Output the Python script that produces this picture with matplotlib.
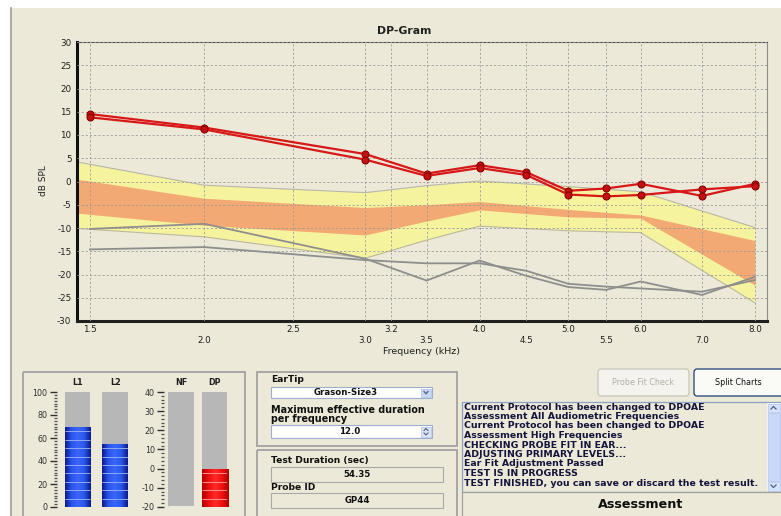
import numpy as np
import matplotlib
matplotlib.use("Agg")
import matplotlib.pyplot as plt
from matplotlib.patches import Rectangle, FancyBboxPatch
from matplotlib.colors import LinearSegmentedColormap
from matplotlib.ticker import NullLocator, NullFormatter, MultipleLocator

plt.rcParams['axes.unicode_minus'] = False
plt.rcParams['font.family'] = ['DejaVu Sans']

W, H = 781, 516
BEIGE = '#ECE9D8'

# --- DATA ---
freqs = [1.5, 2.0, 3.0, 3.5, 4.0, 4.5, 5.0, 5.5, 6.0, 7.0, 8.0]
dp_run1 = [14.5, 11.6, 5.9, 1.7, 3.5, 2.0, -2.0, -1.5, -0.5, -3.1, -0.5]
dp_run2 = [13.8, 11.2, 4.7, 1.2, 2.9, 1.4, -2.8, -3.2, -2.9, -1.7, -1.0]
noise_run1 = [-10.2, -9.1, -16.6, -21.3, -17.0, -20.3, -22.7, -23.3, -21.5, -24.4, -20.5]
noise_run2 = [-14.6, -14.1, -16.9, -17.6, -17.6, -19.2, -22.0, -22.6, -23.0, -23.7, -21.2]

norm_freqs = [1.452, 2.0, 3.0, 3.5, 4.0, 5.0, 6.0, 8.0]
outer_hi = [4.2, -0.8, -2.4, -0.9, 0.1, -1.1, -2.2, -9.9]
outer_lo = [-10.1, -11.9, -16.5, -12.6, -9.6, -10.6, -11.0, -26.1]
inner_hi = [0.5, -3.6, -5.6, -5.0, -4.3, -6.0, -7.2, -12.7]
inner_lo = [-6.8, -9.4, -11.5, -8.5, -6.1, -7.6, -7.9, -22.3]

tick_freqs = [1.5, 2.0, 2.5, 3.0, 3.2, 3.5, 4.0, 4.5, 5.0, 5.5, 6.0, 7.0, 8.0]
tick_labels = ['1.5', '2.0', '2.5', '3.0', '3.2', '3.5', '4.0',
               '4.5', '5.0', '5.5', '6.0', '7.0', '8.0']
lower_row = ['2.0', '3.0', '3.5', '4.5', '5.5', '7.0']

level_names = ['L1', 'L2']
level_values = [70, 55]
dp_names = ['NF', 'DP']
dp_values = [-20, 0]

ear_tip = 'Grason-Size3'
max_duration = '12.0'
test_duration = '54.35'
probe_id = 'GP44'
log_lines = [
    'Current Protocol has been changed to DPOAE',
    'Assessment All Audiometric Frequencies',
    'Current Protocol has been changed to DPOAE',
    'Assessment High Frequencies',
    'CHECKING PROBE FIT IN EAR...',
    'ADJUSTING PRIMARY LEVELS...',
    'Ear Fit Adjustment Passed',
    'TEST IS IN PROGRESS',
    'TEST FINISHED, you can save or discard the test result.',
]


def px_axes(fig, x0, y0, x1, y1):
    """Axes placed by pixel box (top-left origin)."""
    return fig.add_axes([x0 / W, 1 - y1 / H, (x1 - x0) / W, (y1 - y0) / H])


def box(ui, x0, y0, x1, y1, fc='none', ec='#A0A0A0', lw=1.0):
    ui.add_patch(Rectangle((x0, y0), x1 - x0, y1 - y0, facecolor=fc,
                           edgecolor=ec, linewidth=lw))


def draw_dpgram(fig):
    ax = px_axes(fig, 77, 42, 767, 321)
    ax.set_facecolor(BEIGE)
    ax.fill_between(norm_freqs, outer_lo, outer_hi, color='#F6F39E', lw=0, zorder=1)
    ax.fill_between(norm_freqs, inner_lo, inner_hi, color='#F3A974', lw=0, zorder=1.2)
    ax.plot(norm_freqs, outer_hi, color='#B9B8A4', lw=0.8, zorder=1.3)
    ax.plot(norm_freqs, outer_lo, color='#B9B8A4', lw=0.8, zorder=1.3)

    ax.plot(freqs, noise_run1, color='#8E8E8E', lw=1.3, zorder=3)
    ax.plot(freqs, noise_run2, color='#8E8E8E', lw=1.3, zorder=3)
    for run in (dp_run1, dp_run2):
        ax.plot(freqs, run, color='#D81818', lw=1.6, marker='o', ms=5,
                mfc='#C41010', mec='#8A0000', mew=0.8, zorder=4)

    ax.set_xscale('log')
    ax.set_xlim(1.452, 8.246)
    ax.set_ylim(-30, 30)
    ax.set_yticks(np.arange(-30, 31, 5))
    ax.set_xticks(tick_freqs)
    ax.set_xticklabels(['\n' + t if t in lower_row else t for t in tick_labels])
    ax.xaxis.set_minor_locator(NullLocator())
    ax.xaxis.set_minor_formatter(NullFormatter())
    ax.tick_params(length=0, labelsize=6.3, pad=4, colors='#202020')
    ax.tick_params(axis='x', pad=3)
    for lbl in ax.get_xticklabels():
        lbl.set_linespacing(1.25)
    ax.grid(True, color='#9A9A9A', linestyle=(0, (2.5, 2.5)), lw=0.6)
    ax.set_axisbelow(False)
    for gl in ax.get_xgridlines() + ax.get_ygridlines():
        gl.set_zorder(2)

    ax.spines['left'].set_linewidth(2.2)
    ax.spines['bottom'].set_linewidth(2.2)
    ax.spines['left'].set_color('#101010')
    ax.spines['bottom'].set_color('#202020')
    ax.spines['top'].set_color('#505050')
    ax.spines['right'].set_color('#8C8C8C')

    fig.text(404 / W, 1 - 31 / H, 'DP-Gram', fontsize=7.8, fontweight='bold',
             ha='center', va='center', color='#202020')
    fig.text(44 / W, 1 - 181 / H, 'dB SPL', fontsize=6.5, rotation=90,
             ha='center', va='center', color='#202020')
    fig.text(421 / W, 1 - 352 / H, 'Frequency (kHz)', fontsize=6.8,
             ha='center', va='center', color='#202020')


def draw_meter(fig, px_box, xlim, names, values, vmin, vmax, major, minor,
               cmap, seg_color, outward):
    ax = px_axes(fig, *px_box)
    ax.set_facecolor('none')
    pos = np.arange(len(names))
    width = 0.68 if vmax == 100 else 0.78
    ax.bar(pos, [vmax - vmin] * len(names), bottom=vmin, width=width,
           color='#B7B7B7', zorder=1)
    bars = ax.bar(pos, np.array(values) - vmin, bottom=vmin, width=width,
                  color='none', zorder=2)
    grad = np.linspace(0, 1, 64).reshape(1, -1)
    bar_px = px_box[3] - px_box[1]
    seg = (vmax - vmin) * 8.4 / bar_px
    for b in bars:
        x, w, h = b.get_x(), b.get_width(), b.get_height()
        if h <= 0:
            ax.hlines(vmin + 0.3, x, x + w, color='#E8E8E8', lw=0.8, zorder=3)
            continue
        im = ax.imshow(grad, extent=(x, x + w, vmin, vmin + h), aspect='auto',
                       cmap=cmap, zorder=2)
        im.set_clip_path(b)
        levels = np.arange(vmin + seg, vmin + h, seg)
        ax.hlines(levels, x, x + w, color=seg_color, lw=0.7, zorder=3)
    ax.set_xlim(*xlim)
    ax.set_ylim(vmin, vmax)
    for s in ('top', 'right', 'bottom'):
        ax.spines[s].set_visible(False)
    ax.spines['left'].set_position(('outward', outward))
    ax.spines['left'].set_visible(False)
    ax.set_xticks([])
    ax.yaxis.set_major_locator(MultipleLocator(major))
    ax.yaxis.set_minor_locator(MultipleLocator(minor))
    ax.tick_params(axis='y', which='major', length=5, width=1, labelsize=5.8,
                   pad=1.5, colors='#303030')
    ax.tick_params(axis='y', which='minor', length=2, width=0.9, colors='#505050')
    for p, n in zip(pos, names):
        ax.text(p, 1.04, n, transform=ax.get_xaxis_transform(), ha='center',
                va='bottom', fontsize=5.8, fontweight='bold', color='#202020')


def draw_ui(fig):
    ui = fig.add_axes([0, 0, 1, 1])
    ui.set_xlim(0, W)
    ui.set_ylim(H, 0)
    ui.axis('off')
    box(ui, 11, 8, W + 2, H + 2, fc=BEIGE, ec='none')
    ui.plot([11, 11], [8, H], color='#9A9A9A', lw=1.2)

    # meter group
    box(ui, 23, 372, 245, H + 5, ec='#A2A2A2', lw=1.3)

    # ear tip group
    bold = dict(fontsize=6.6, fontweight='bold', color='#101010', va='center')
    box(ui, 257, 372, 457, 446, ec='#A2A2A2', lw=1.3)
    ui.text(271, 380, 'EarTip', **bold)
    box(ui, 271, 387, 432, 398, fc='white', ec='#9BB0CC', lw=0.8)
    ui.text(346, 392.5, ear_tip, ha='center', fontsize=6.2, fontweight='bold',
            color='#101010', va='center')
    box(ui, 421, 388.5, 431, 397, fc='#C8D6F8', ec='#B0C0E8', lw=0.5)
    ui.plot([424, 426, 428], [391.5, 393.8, 391.5], color='#4D6185', lw=0.9)
    ui.text(271, 410, 'Maximum effective duration', fontsize=6.9,
            fontweight='bold', color='#101010', va='center')
    ui.text(271, 419, 'per frequency', fontsize=6.9, fontweight='bold',
            color='#101010', va='center')
    box(ui, 271, 425, 432, 438, fc='white', ec='#9BB0CC', lw=0.8)
    ui.text(350, 431.5, max_duration, ha='center', fontsize=6.2,
            fontweight='bold', color='#101010', va='center')
    box(ui, 421, 426.5, 431, 437, fc='#DDE4F6', ec='#B0C0E8', lw=0.5)
    ui.plot([424, 426, 428], [430.5, 428.5, 430.5], color='#4D6185', lw=0.8)
    ui.plot([424, 426, 428], [433, 435, 433], color='#4D6185', lw=0.8)

    # test info group
    box(ui, 257, 450, 457, H + 5, ec='#A2A2A2', lw=1.3)
    ui.text(271, 460, 'Test Duration (sec)', **bold)
    box(ui, 271, 467, 443, 482, ec='#A8A8A8', lw=0.8)
    ui.text(357, 474.5, test_duration, ha='center', fontsize=6.2,
            fontweight='bold', color='#101010', va='center')
    ui.text(271, 487, 'Probe ID', **bold)
    box(ui, 271, 493, 443, 508, ec='#A8A8A8', lw=0.8)
    ui.text(357, 500.5, probe_id, ha='center', fontsize=6.2,
            fontweight='bold', color='#101010', va='center')

    # buttons
    ui.add_patch(FancyBboxPatch((598, 369), 91, 27, boxstyle='round,pad=0,rounding_size=3',
                                fc='#F4F3EE', ec='#C9C7BA', lw=0.9))
    ui.text(643.5, 382.5, 'Probe Fit Check', ha='center', va='center',
            fontsize=5.8, color='#B3B0A3')
    ui.add_patch(FancyBboxPatch((694, 369), 90, 27, boxstyle='round,pad=0,rounding_size=3',
                                fc='#FAFAF7', ec='#1C3F74', lw=0.9))
    ui.text(738, 382.5, 'Split Charts', ha='center', va='center',
            fontsize=5.8, color='#101010')

    # log box
    box(ui, 462, 402, W + 2, 492, fc=BEIGE, ec='#8CA2C4', lw=0.9)
    for i, line in enumerate(log_lines):
        ui.text(463.5, 407 + i * 9.5, line, fontsize=6.75, fontweight='bold',
                color='#14143C', va='center', ha='left')
    box(ui, 767, 403, 780, 491, fc='#EEF2FC', ec='none')
    box(ui, 767.5, 413, 779.5, 481, fc='#C9D8FA', ec='#B4C6EE', lw=0.5)
    box(ui, 767.5, 403.5, 779.5, 412, fc='#D6E1FB', ec='#B4C6EE', lw=0.5)
    box(ui, 767.5, 482, 779.5, 490.5, fc='#D6E1FB', ec='#B4C6EE', lw=0.5)
    ui.plot([771, 773.5, 776], [409, 406.5, 409], color='#4D6185', lw=0.9)
    ui.plot([771, 773.5, 776], [485, 487.5, 485], color='#4D6185', lw=0.9)
    box(ui, 462, 492, W + 2, H + 2, fc=BEIGE, ec='#A0A0A0', lw=0.9)
    ui.text(641, 504.5, 'Assessment', ha='center', va='center', fontsize=9.2,
            fontweight='bold', color='#101010')
    return ui


if __name__ == "__main__":
    fig = plt.figure(figsize=(W / 100, H / 100), dpi=100, facecolor='white')
    draw_ui(fig)
    draw_dpgram(fig)

    blue = LinearSegmentedColormap.from_list(
        'blue', ['#0A1A8C', '#2B55EE', '#3A66FA', '#2B55EE', '#0A1A8C'])
    red = LinearSegmentedColormap.from_list(
        'red', ['#B00000', '#F01010', '#FF2A2A', '#F01010', '#B00000'])
    draw_meter(fig, (65, 392, 128, 507), (-0.33, 1.34), level_names, level_values,
               0, 100, 20, 2.5, blue, '#8FA8F0', 6)
    draw_meter(fig, (168, 392, 227, 507), (-0.39, 1.37), dp_names, dp_values,
               -20, 40, 10, 2, red, '#FF9090', 3)

    fig.savefig('out.png', dpi=100, facecolor='white')
